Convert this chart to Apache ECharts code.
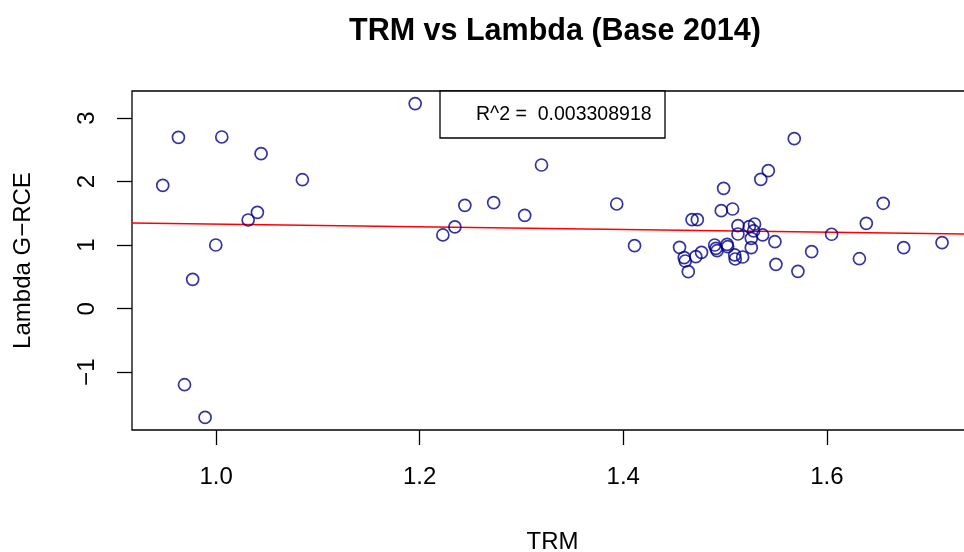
<!DOCTYPE html>
<html>
<head>
<meta charset="utf-8">
<title>TRM vs Lambda (Base 2014)</title>
<script src="https://cdn.jsdelivr.net/npm/echarts@6/dist/echarts.min.js"></script>
<style>
  html, body { margin: 0; padding: 0; background: #fff; }
  #chart { width: 964px; height: 552px; }
</style>
</head>
<body>
<div id="chart"></div>
<script>
// TRM (x) and Lambda G-RCE (y) for each observation
const trm = [
  0.9476, 0.963, 0.969, 0.977, 0.9892, 0.9997, 1.0056, 1.0315, 1.0406, 1.0442,
  1.0848, 1.1956, 1.2228, 1.2346, 1.2444, 1.2727, 1.3032, 1.3197, 1.3936, 1.4111,
  1.4553, 1.4599, 1.4609, 1.4639, 1.4676, 1.4728, 1.4713, 1.4769, 1.4898, 1.4911,
  1.4922, 1.4963, 1.4986, 1.502, 1.5026, 1.5074, 1.5095, 1.510, 1.5127, 1.5127,
  1.5173, 1.5238, 1.529, 1.528, 1.5258, 1.5258, 1.537, 1.5351, 1.5425, 1.549,
  1.550, 1.568, 1.5716, 1.5851, 1.6047, 1.632, 1.6388, 1.6554, 1.6755, 1.7132
];
const lambda = [
  1.943, 2.699, -1.197, 0.463, -1.712, 1.003, 2.704, 1.397, 1.518, 2.441,
  2.031, 3.230, 1.161, 1.287, 1.628, 1.669, 1.470, 2.263, 1.649, 0.992,
  0.967, 0.803, 0.751, 0.583, 1.402, 1.402, 0.819, 0.888, 1.003, 0.951,
  0.913, 1.543, 1.896, 1.014, 0.976, 1.570, 0.846, 0.783, 1.307, 1.176,
  0.814, 1.291, 1.334, 1.224, 1.108, 0.961, 1.161, 2.037, 2.173, 1.055,
  0.699, 2.677, 0.589, 0.898, 1.172, 0.787, 1.345, 1.660, 0.961, 1.040
];

// Least-squares line shown in red, and its R^2
const fitIntercept = 1.546;
const fitSlope = -0.2135;
const rSquared = '0.003308918';

// Axis ranges and tick labels
const xRange = [0.9174, 1.7436];
const yRange = [-1.910, 3.428];
const xTicks = [1.0, 1.2, 1.4, 1.6];
const yTicks = [-1, 0, 1, 2, 3];

const FONT = '"Liberation Sans", Arial, Helvetica, sans-serif';

const points = trm.map((x, i) => [x, lambda[i]]);
const fitLine = xRange.map(x => [x, fitIntercept + fitSlope * x]);

const chart = echarts.init(document.getElementById('chart'), null, { renderer: 'canvas' });

chart.setOption({
  backgroundColor: '#ffffff',
  animation: false,
  title: {
    text: 'TRM vs Lambda (Base 2014)',
    left: 550,
    top: 11,
    textAlign: 'center',
    textStyle: { fontFamily: FONT, fontSize: 30.5, fontWeight: 'bold', color: '#000' }
  },
  grid: {
    left: 132, top: 91, width: 841, height: 339,
    outerBoundsMode: 'none',
    containLabel: false,
    show: true, borderColor: '#000', borderWidth: 1.3, backgroundColor: 'transparent'
  },
  xAxis: {
    type: 'value',
    min: xRange[0], max: xRange[1],
    axisLine: { show: false, onZero: false },
    splitLine: { show: false },
    axisTick: { show: true, length: 15, customValues: xTicks, lineStyle: { color: '#000', width: 1.3 } },
    axisLabel: {
      customValues: xTicks,
      formatter: v => v.toFixed(1),
      fontFamily: FONT, fontSize: 24, color: '#000', margin: 35
    },
    name: 'TRM',
    nameLocation: 'middle',
    nameGap: 100,
    nameTextStyle: { fontFamily: FONT, fontSize: 24, color: '#000' }
  },
  yAxis: {
    type: 'value',
    min: yRange[0], max: yRange[1],
    axisLine: { show: false, onZero: false },
    splitLine: { show: false },
    axisTick: { show: true, length: 15, customValues: yTicks, lineStyle: { color: '#000', width: 1.3 } },
    axisLabel: {
      customValues: yTicks,
      rotate: 90,
      formatter: v => (v < 0 ? '\u2212' + Math.abs(v) : String(v)),
      fontFamily: FONT, fontSize: 24, color: '#000', margin: 33
    },
    name: 'Lambda G\u2212RCE',
    nameLocation: 'middle',
    nameGap: 97,
    nameTextStyle: { fontFamily: FONT, fontSize: 24, color: '#000' }
  },
  series: [
    {
      type: 'line',
      data: fitLine,
      symbol: 'none',
      lineStyle: { color: '#ff0000', width: 1.5 },
      z: 2
    },
    {
      type: 'scatter',
      data: points,
      symbol: 'circle',
      symbolSize: 12,
      itemStyle: { color: 'rgba(0,0,0,0)', borderColor: '#00008b', borderWidth: 1.7 },
      z: 3
    }
  ],
  graphic: [
    {
      type: 'rect',
      shape: { x: 440, y: 91, width: 225, height: 47 },
      style: { fill: '#fff', stroke: '#000', lineWidth: 1.3 },
      z: 10
    },
    {
      type: 'text',
      x: 476, y: 115,
      style: {
        text: 'R^2 =  ' + rSquared,
        fontFamily: FONT, fontSize: 19.5, fill: '#000',
        textAlign: 'left', textVerticalAlign: 'middle'
      },
      z: 11
    }
  ]
});
</script>
</body>
</html>
